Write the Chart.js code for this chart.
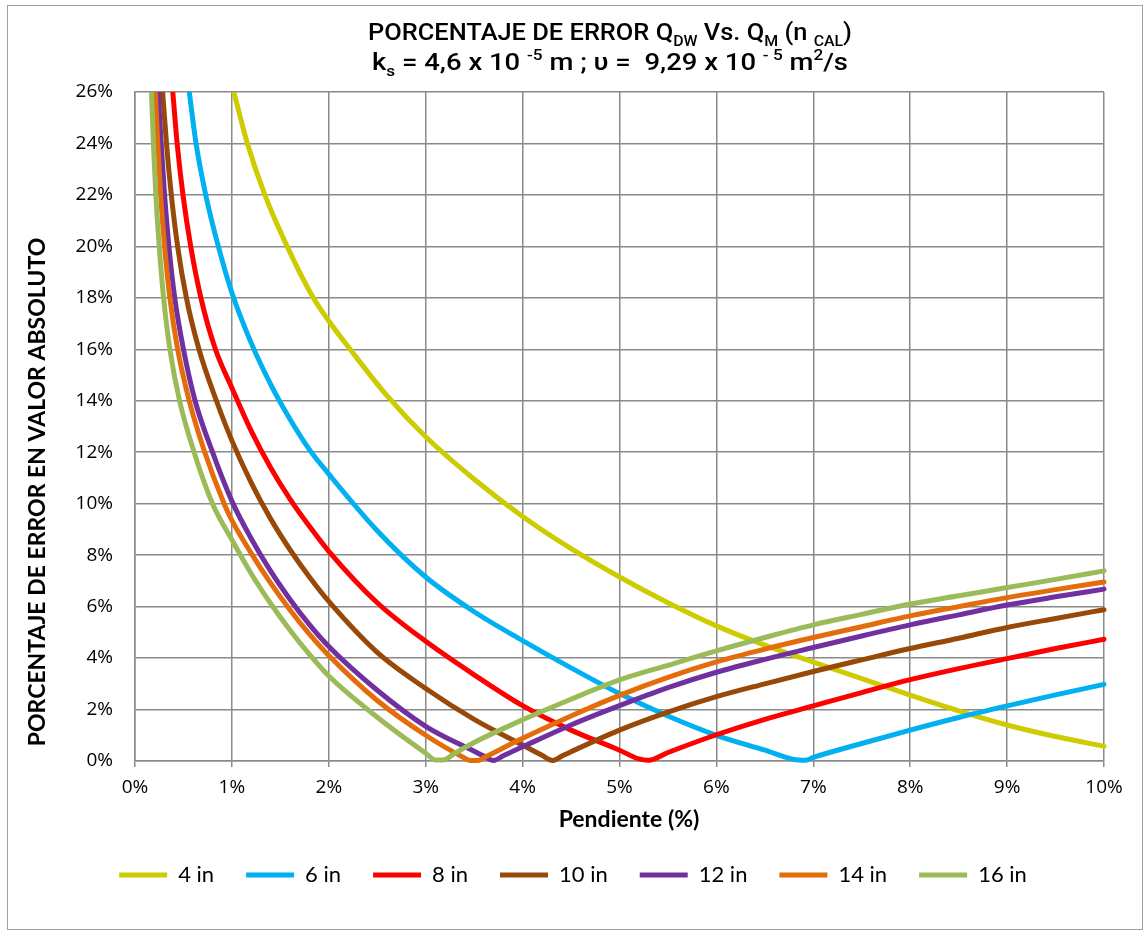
<!DOCTYPE html>
<html>
<head>
<meta charset="utf-8">
<script src="https://cdn.jsdelivr.net/npm/chart.js@4.4.1/dist/chart.umd.min.js"></script>
<style>
  html, body { margin: 0; padding: 0; background: #ffffff; }
  #wrap { width: 1145px; height: 932px; position: relative; }
</style>
</head>
<body>
<div id="wrap"><canvas id="chart" width="1145" height="932"></canvas></div>
<script>
// Pendiente (%) vs. porcentaje de error, one series per pipe diameter
const seriesNames = ['4 in', '6 in', '8 in', '10 in', '12 in', '14 in', '16 in'];
const seriesColors = ['#CCCC00', '#00B0F0', '#FF0000', '#984807', '#7030A0', '#E46C0A', '#9BBB59'];

const xTicks = [0, 1, 2, 3, 4, 5, 6, 7, 8, 9, 10];
const yTicks = [0, 2, 4, 6, 8, 10, 12, 14, 16, 18, 20, 22, 24, 26];

const xAxisTitle = 'Pendiente (%)';
const yAxisTitle = 'PORCENTAJE DE ERROR EN VALOR ABSOLUTO';

// [pendiente %, error %]
const error4in = [[1.02,26],[1.16,24],[1.34,22],[1.57,20],[1.84,18],[2.0,17.1],[2.22,16],[2.6,14.2],[3.0,12.6],[3.5,10.95],[4.0,9.5],[4.5,8.25],[5.0,7.15],[5.5,6.15],[6.0,5.25],[6.5,4.5],[7.0,3.84],[7.5,3.2],[8.0,2.56],[8.5,1.95],[9.0,1.4],[9.5,0.95],[10.0,0.57]];
const error6in = [[0.56,26],[0.63,24],[0.73,22],[0.86,20],[1.0,18.2],[1.2,16.24],[1.4,14.64],[1.6,13.28],[1.8,12.1],[2.0,11.15],[2.5,8.95],[3.0,7.15],[3.5,5.8],[4.0,4.68],[4.5,3.62],[5.0,2.62],[5.5,1.75],[6.0,1.0],[6.5,0.42],[6.8,0.06],[6.92,0.03],[7.0,0.14],[7.5,0.68],[8.0,1.2],[8.5,1.69],[9.0,2.14],[9.5,2.57],[10.0,2.98]];
const error8in = [[0.39,26],[0.435,24],[0.495,22],[0.575,20],[0.68,18],[0.83,16],[1.0,14.5],[1.2,12.82],[1.4,11.4],[1.6,10.18],[1.8,9.12],[2.0,8.15],[2.5,6.15],[3.0,4.65],[3.5,3.35],[4.0,2.15],[4.5,1.2],[5.0,0.42],[5.2,0.08],[5.3,0.03],[5.5,0.33],[6.0,1.02],[6.5,1.62],[7.0,2.14],[7.5,2.66],[8.0,3.16],[8.5,3.59],[9.0,3.98],[9.5,4.37],[10.0,4.73]];
const error10in = [[0.285,26],[0.325,24],[0.375,22],[0.44,20],[0.53,18],[0.66,16],[0.84,14],[1.0,12.45],[1.2,10.81],[1.4,9.41],[1.6,8.21],[1.8,7.15],[2.0,6.2],[2.5,4.22],[3.0,2.82],[3.5,1.62],[4.0,0.62],[4.2,0.22],[4.31,0.02],[4.4,0.18],[4.5,0.36],[5.0,1.2],[5.5,1.9],[6.0,2.5],[6.5,3.0],[7.0,3.48],[7.5,3.93],[8.0,4.37],[8.5,4.77],[9.0,5.19],[9.5,5.54],[10.0,5.88]];
const error12in = [[0.24,26],[0.27,24],[0.305,22],[0.35,20],[0.41,18],[0.5,16],[0.62,14],[0.8,12],[1.0,10.1],[1.2,8.64],[1.4,7.38],[1.6,6.28],[1.8,5.3],[2.0,4.45],[2.5,2.75],[3.0,1.35],[3.5,0.38],[3.6,0.19],[3.7,0.02],[3.8,0.2],[4.0,0.55],[4.5,1.4],[5.0,2.15],[5.5,2.85],[6.0,3.45],[6.5,3.95],[7.0,4.41],[7.5,4.86],[8.0,5.29],[8.5,5.68],[9.0,6.06],[9.5,6.38],[10.0,6.68]];
const error14in = [[0.21,26],[0.235,24],[0.265,22],[0.305,20],[0.36,18],[0.44,16],[0.56,14],[0.72,12],[0.92,10],[1.0,9.35],[1.2,8.07],[1.4,6.91],[1.6,5.87],[1.8,4.93],[2.0,4.1],[2.5,2.35],[3.0,1.0],[3.4,0.12],[3.46,0.02],[3.54,0.02],[3.6,0.13],[4.0,0.88],[4.5,1.75],[5.0,2.55],[5.5,3.25],[6.0,3.85],[6.5,4.35],[7.0,4.8],[7.5,5.22],[8.0,5.64],[8.5,6.0],[9.0,6.35],[9.5,6.66],[10.0,6.96]];
const error16in = [[0.17,26],[0.19,24],[0.215,22],[0.25,20],[0.295,18],[0.36,16],[0.46,14],[0.61,12],[0.8,10],[1.0,8.6],[1.2,7.28],[1.4,6.12],[1.6,5.08],[1.8,4.14],[2.0,3.3],[2.5,1.7],[3.0,0.3],[3.1,0.04],[3.18,0.04],[3.3,0.3],[3.5,0.72],[4.0,1.6],[4.5,2.4],[5.0,3.15],[5.5,3.72],[6.0,4.28],[6.5,4.8],[7.0,5.29],[7.5,5.7],[8.0,6.1],[8.5,6.42],[9.0,6.74],[9.5,7.06],[10.0,7.39]];

const seriesValues = [error4in, error6in, error8in, error10in, error12in, error14in, error16in];

const gridColor = '#8a8a8a';

const datasets = seriesValues.map((pts, i) => ({
  label: seriesNames[i],
  data: pts.map(p => ({ x: p[0], y: p[1] })),
  borderColor: seriesColors[i],
  backgroundColor: seriesColors[i],
  borderWidth: 5,
  borderCapStyle: 'round',
  borderJoinStyle: 'round',
  pointRadius: 0,
  pointHoverRadius: 0,
  fill: false,
  cubicInterpolationMode: 'monotone',
  clip: { left: 0, top: 0, right: 4, bottom: 4 },
  order: seriesValues.length - 1 - i
}));

// Rich text helper for the two-line heading with sub/superscripts
function drawRichLine(ctx, segs, cx, baseline, size, family, weight, targetWidth) {
  const small = Math.round(size * 0.64);
  let total = 0;
  const widths = segs.map(s => {
    ctx.font = weight + ' ' + (s.m === 'n' ? size : small) + 'px ' + family;
    const w = ctx.measureText(s.t).width;
    total += w;
    return w;
  });
  const sx = targetWidth / total;
  ctx.save();
  ctx.translate(cx - targetWidth / 2, baseline);
  ctx.scale(sx, 1);
  ctx.fillStyle = '#000';
  ctx.textBaseline = 'alphabetic';
  ctx.textAlign = 'left';
  let x = 0;
  segs.forEach((s, k) => {
    ctx.font = weight + ' ' + (s.m === 'n' ? size : small) + 'px ' + family;
    const dy = s.m === 'sub' ? size * 0.26 : (s.m === 'sup' ? -size * 0.40 : 0);
    ctx.fillText(s.t, x, dy);
    x += widths[k];
  });
  ctx.restore();
}

const headingPlugin = {
  id: 'heading',
  beforeDraw(chart) {
    const ctx = chart.ctx;
    ctx.save();
    ctx.fillStyle = '#ffffff';
    ctx.fillRect(0, 0, chart.width, chart.height);
    ctx.strokeStyle = '#a0a0a0';
    ctx.lineWidth = 1;
    ctx.strokeRect(7.5, 5.5, chart.width - 10, chart.height - 8);
    ctx.restore();
  },
  afterDraw(chart) {
    const ctx = chart.ctx;
    const line1 = [
      { t: 'PORCENTAJE DE ERROR Q', m: 'n' }, { t: 'DW', m: 'sub' },
      { t: ' Vs. Q', m: 'n' }, { t: 'M', m: 'sub' },
      { t: ' (n ', m: 'n' }, { t: 'CAL', m: 'sub' }, { t: ')', m: 'n' }
    ];
    const line2 = [
      { t: 'k', m: 'n' }, { t: 's', m: 'sub' },
      { t: ' = 4,6 x 10 ', m: 'n' }, { t: '-5', m: 'sup' },
      { t: ' m ; \u03C5 =  9,29 x 10 ', m: 'n' }, { t: '- 5', m: 'sup' },
      { t: ' m', m: 'n' }, { t: '2', m: 'sup' }, { t: '/s', m: 'n' }
    ];
    drawRichLine(ctx, line1, 610, 40, 24, 'Roboto', '500', 484);
    drawRichLine(ctx, line2, 610, 70, 24, 'Roboto', '500', 476);

    // axis titles
    ctx.save();
    ctx.fillStyle = '#000';
    ctx.font = 'bold 23px Lato';
    ctx.textAlign = 'center';
    ctx.textBaseline = 'middle';
    ctx.fillText(xAxisTitle, 629, 820);
    ctx.translate(38, 492);
    ctx.rotate(-Math.PI / 2);
    ctx.fillText(yAxisTitle, 0, 0);
    ctx.restore();
  }
};

new Chart(document.getElementById('chart'), {
  type: 'line',
  data: { datasets },
  options: {
    responsive: false,
    animation: false,
    devicePixelRatio: 1,
    layout: { padding: { left: 25, top: 92, right: 24, bottom: 36 } },
    plugins: {
      title: { display: false },
      tooltip: { enabled: false },
      legend: {
        position: 'bottom',
        labels: {
          usePointStyle: true,
          pointStyle: 'line',
          pointStyleWidth: 48,
          padding: 32,
          color: '#000',
          font: { family: 'Lato', size: 22 },
          sort: (a, b) => a.datasetIndex - b.datasetIndex
        }
      }
    },
    scales: {
      x: {
        type: 'linear',
        min: xTicks[0],
        max: xTicks[xTicks.length - 1],
        afterBuildTicks: (scale) => { scale.ticks = xTicks.map(v => ({ value: v })); },
        afterFit: (scale) => { scale.height = 71; },
        grid: { color: gridColor, lineWidth: 1.5, tickLength: 6, drawTicks: true, tickColor: gridColor },
        border: { color: gridColor, width: 1.5 },
        ticks: { color: '#000', font: { family: 'Open Sans', size: 19 }, padding: 9, callback: v => v + '%', maxRotation: 0 }
      },
      y: {
        type: 'linear',
        min: yTicks[0],
        max: yTicks[yTicks.length - 1],
        afterBuildTicks: (scale) => { scale.ticks = yTicks.map(v => ({ value: v })); },
        afterFit: (scale) => { scale.width = 110; },
        grid: { color: gridColor, lineWidth: 1.5, drawTicks: false },
        border: { color: gridColor, width: 1.5 },
        ticks: { color: '#000', font: { family: 'Open Sans', size: 19 }, padding: 22, callback: v => v + '%' }
      },
      yRight: {
        type: 'linear',
        position: 'right',
        min: 0,
        max: 26,
        afterFit: (scale) => { scale.width = 17; },
        grid: { display: false, drawOnChartArea: false },
        border: { display: false },
        ticks: { display: false }
      }
    }
  },
  plugins: [headingPlugin]
});
</script>
</body>
</html>
